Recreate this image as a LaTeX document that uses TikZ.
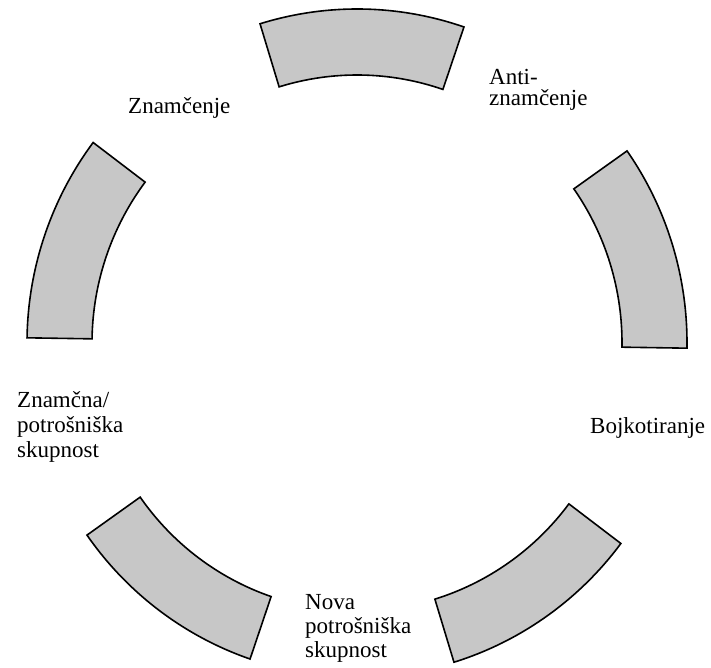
\documentclass[tikz,border=0pt]{standalone}
\usepackage{fontspec}
\setmainfont{Liberation Serif}
\begin{document}
\begin{tikzpicture}[x=1pt,y=1pt,
  seg/.style={draw=black, line width=1.6pt, fill=black!22, line join=miter},
  lbl/.style={inner sep=0pt, anchor=base west, align=left}]
\useasboundingbox (0,0) rectangle (711,667);
\begin{scope}[shift={(357,324)}, rotate=-0.9]
\foreach \a [evaluate=\a as \b using \a+36] in {0,72,144,216,288} {
  \draw[seg] (\a:330 and 334) arc[start angle=\a, end angle=\b, x radius=330, y radius=334]
    -- (\b:265 and 268) arc[start angle=\b, end angle=\a, x radius=265, y radius=268] -- cycle;
}
\end{scope}
% multi-line labels: the base anchor is the baseline of the last line
\node[lbl, font=\fontsize{23}{25}\selectfont] (znam) at (128,553) {Znamčenje};
\node[lbl, font=\fontsize{23}{21}\selectfont] (anti) at (489,561) {Anti-\\znamčenje};
\node[lbl, font=\fontsize{23}{25}\selectfont] (bojk) at (590,234) {Bojkotiranje};
\node[lbl, font=\fontsize{23}{25}\selectfont] (skup) at (17,210) {Znamčna/\\potrošniška\\skupnost};
\node[lbl, font=\fontsize{23}{24}\selectfont] (nova) at (305,10) {Nova\\potrošniška\\skupnost};
\end{tikzpicture}
\end{document}
